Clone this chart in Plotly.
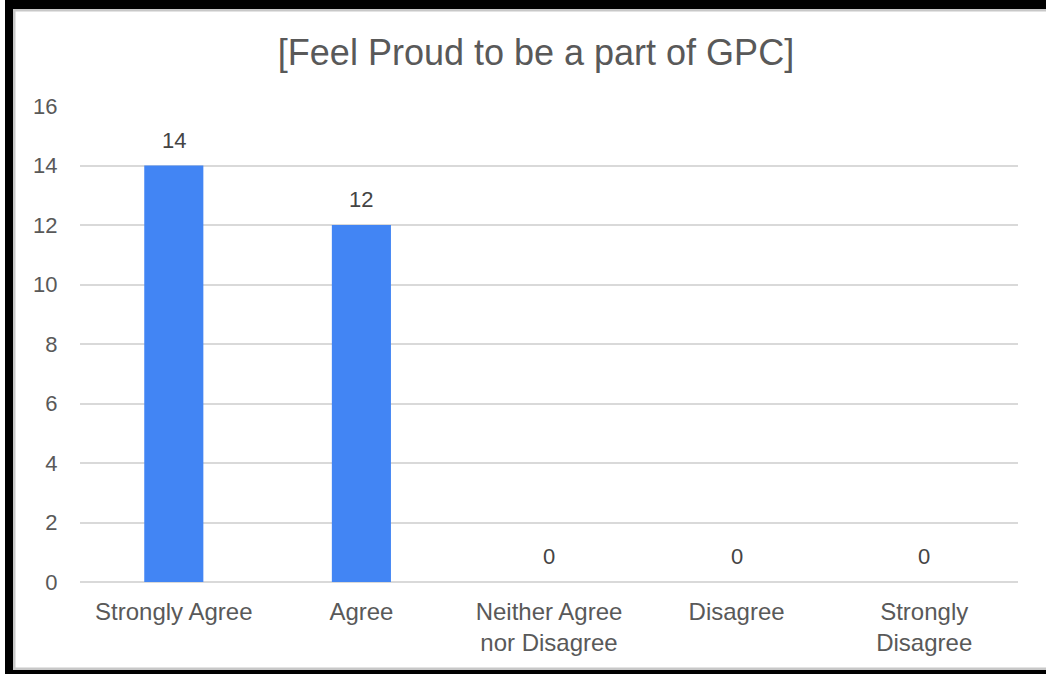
import plotly.graph_objects as go

categories = ["Strongly Agree", "Agree", "Neither Agree<br>nor Disagree", "Disagree", "Strongly<br>Disagree"]
values = [14, 12, 0, 0, 0]
y_ticks = [0, 2, 4, 6, 8, 10, 12, 14, 16]
title_text = "[Feel Proud to be a part of GPC]"

W, H = 1046, 674
ML, MR, MT, MB = 80, 28, 106, 92
PW, PH = W - ML - MR, H - MT - MB

def px_x(px):
    return (px - ML) / PW

def px_y(py):
    return (H - MB - py) / PH

FONT = "Liberation Sans, Arial, sans-serif"
TXT = "#595959"

fig = go.Figure()
fig.add_trace(go.Bar(
    x=categories, y=values,
    marker=dict(color="#4285F4", line=dict(width=0)),
    width=0.315,
    hoverinfo="skip",
))

annotations = []
for c, v in zip(categories, values):
    annotations.append(dict(
        x=c, y=v, xref="x", yref="y", text=str(v), showarrow=False,
        yanchor="bottom", yshift=11,
        font=dict(family=FONT, size=22, color="#444444"),
    ))

shapes = []
def rect(x0, y0, x1, y1, color):
    shapes.append(dict(type="rect", xref="paper", yref="paper",
                       x0=px_x(x0), x1=px_x(x1), y0=px_y(y0), y1=px_y(y1),
                       fillcolor=color, line=dict(width=0), layer="above"))

# inner light-gray frame
rect(13, 9, 1046, 11.5, "#c8c8c8")
rect(13, 9, 15.5, 670, "#c8c8c8")
rect(13, 667.5, 1046, 670, "#c8c8c8")
# outer black frame
rect(5, 0, 1046, 9, "#000000")
rect(5, 0, 13, 674, "#000000")
rect(5, 670, 1046, 674, "#000000")

fig.update_layout(
    width=W, height=H,
    margin=dict(l=ML, r=MR, t=MT, b=MB, pad=0),
    paper_bgcolor="white", plot_bgcolor="white",
    title=dict(text=title_text, x=536 / W, xanchor="center",
               y=1 - 52 / H, yanchor="middle",
               font=dict(family=FONT, size=36, color=TXT)),
    font=dict(family=FONT, color=TXT),
    showlegend=False,
    annotations=annotations,
    shapes=shapes,
    bargap=0.685,
)
fig.update_xaxes(
    showgrid=False, zeroline=False, showline=False,
    ticks="outside", ticklen=8, tickcolor="rgba(0,0,0,0)",
    tickfont=dict(family=FONT, size=24, color=TXT),
    fixedrange=True,
)
fig.update_yaxes(
    range=[0, 16], tickvals=y_ticks, ticktext=[str(t) for t in y_ticks],
    showgrid=True, gridcolor="#d9d9d9", gridwidth=2,
    zeroline=True, zerolinecolor="#d9d9d9", zerolinewidth=2,
    showline=False, ticks="outside", ticklen=17, tickcolor="rgba(0,0,0,0)",
    tickfont=dict(family=FONT, size=22, color=TXT),
    fixedrange=True,
)

fig.write_html("out.html", config={"displayModeBar": False},
               post_script="document.body.style.margin='0';document.body.style.padding='0';")
